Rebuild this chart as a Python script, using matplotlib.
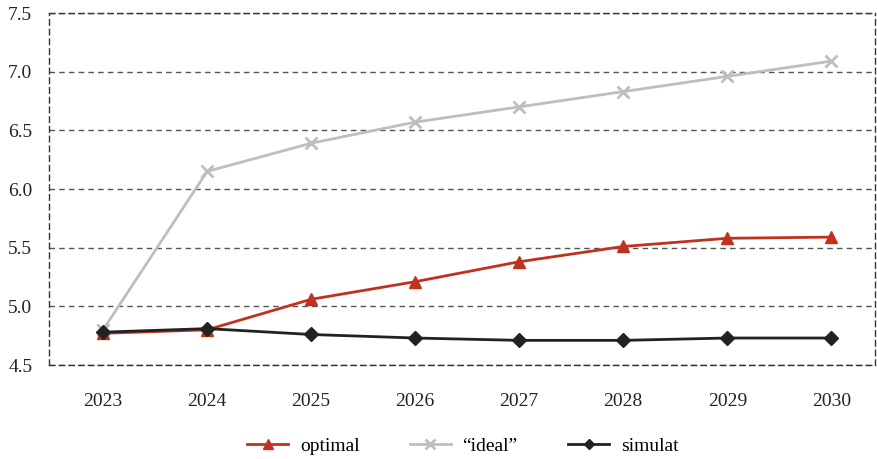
import matplotlib.pyplot as plt

years = ["2023", "2024", "2025", "2026", "2027", "2028", "2029", "2030"]
optimal = [4.77, 4.80, 5.06, 5.21, 5.38, 5.51, 5.58, 5.59]
ideal = [4.80, 6.15, 6.39, 6.57, 6.70, 6.83, 6.96, 7.09]
simulat = [4.78, 4.81, 4.76, 4.73, 4.71, 4.71, 4.73, 4.73]

plt.rcParams["font.family"] = ["Liberation Serif", "DejaVu Serif"]

fig = plt.figure(figsize=(8.78, 4.59), dpi=100)
ax = fig.add_axes([49 / 878, 1 - 365 / 459, 826 / 878, 352 / 459])

x = list(range(len(years)))
ax.plot(x, optimal, color="#C0321E", lw=2, marker="^", ms=9, label="optimal", zorder=3)
ax.plot(x, ideal, color="#BEBEC0", lw=2, marker="x", ms=9, mew=2, label="\u201cideal\u201d", zorder=2)
ax.plot(x, simulat, color="#222222", lw=2, marker="D", ms=7, label="simulat", zorder=4)

ax.set_xlim(-0.52, 7.42)
ax.set_ylim(4.5, 7.5)
ax.set_yticks([4.5, 5.0, 5.5, 6.0, 6.5, 7.0, 7.5])
ax.set_yticklabels([f"{v:.1f}" for v in [4.5, 5.0, 5.5, 6.0, 6.5, 7.0, 7.5]])
ax.set_xticks(x)
ax.set_xticklabels(years)
ax.tick_params(length=0, labelsize=14, colors="#222222")
ax.tick_params(axis="x", pad=20)
ax.tick_params(axis="y", pad=12)

ax.grid(axis="y", color="#555555", ls=(0, (4, 3)), lw=1)
for s in ax.spines.values():
    s.set_linestyle((0, (4, 3)))
    s.set_color("#333333")
    s.set_linewidth(1)

leg = ax.legend(loc="center", bbox_to_anchor=(0.501, -0.231), ncol=3, frameon=False,
                fontsize=14, handlelength=2.1, handletextpad=0.6, columnspacing=2.6,
                markerscale=0.75)

fig.savefig("out.png", dpi=100)
